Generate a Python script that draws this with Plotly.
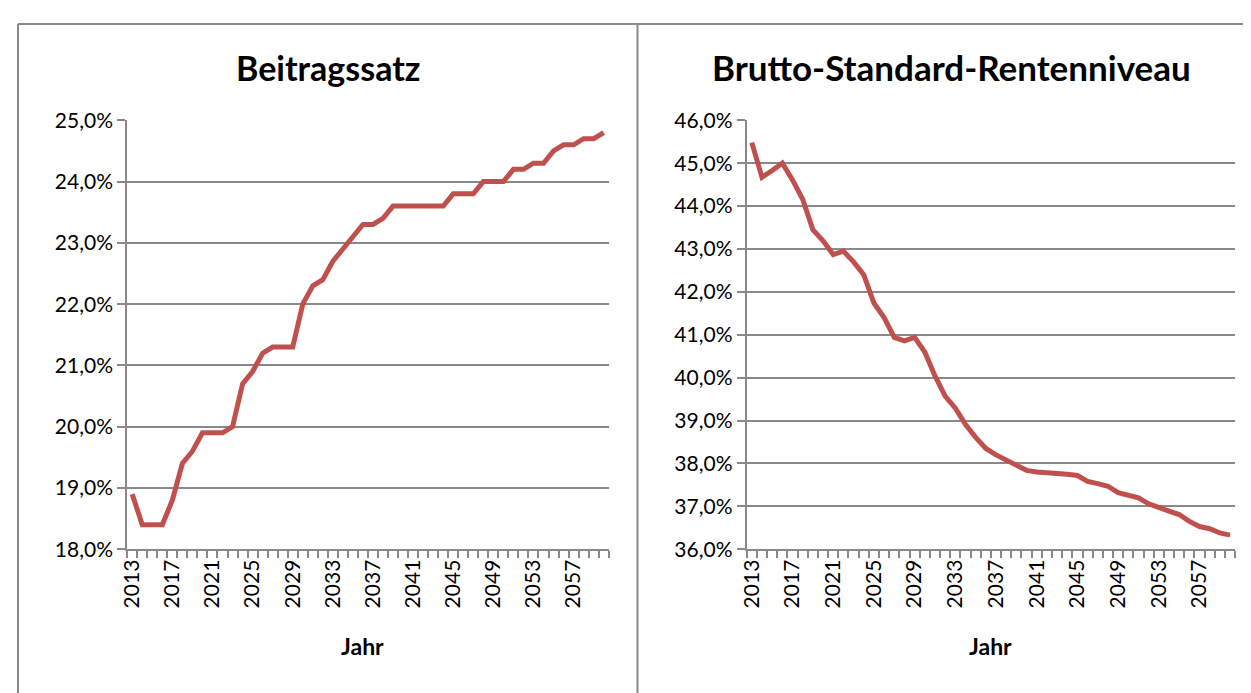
import plotly.graph_objects as go
from plotly.subplots import make_subplots

years = list(range(2013, 2061))

beitragssatz = [18.9, 18.4, 18.4, 18.4, 18.8, 19.4, 19.6, 19.9, 19.9, 19.9,
                20.0, 20.7, 20.9, 21.2, 21.3, 21.3, 21.3, 22.0, 22.3, 22.4,
                22.7, 22.9, 23.1, 23.3, 23.3, 23.4, 23.6, 23.6, 23.6, 23.6,
                23.6, 23.6, 23.8, 23.8, 23.8, 24.0, 24.0, 24.0, 24.2, 24.2,
                24.3, 24.3, 24.5, 24.6, 24.6, 24.7, 24.7, 24.8]

rentenniveau = [45.48, 44.67, 44.83, 45.0, 44.61, 44.16, 43.45, 43.19, 42.87, 42.95,
                42.70, 42.40, 41.74, 41.40, 40.94, 40.86, 40.94, 40.60, 40.04, 39.57,
                39.29, 38.91, 38.61, 38.35, 38.20, 38.09, 37.97, 37.84, 37.80, 37.79,
                37.77, 37.75, 37.72, 37.58, 37.53, 37.47, 37.32, 37.25, 37.20, 37.06,
                36.99, 36.89, 36.81, 36.65, 36.53, 36.48, 36.38, 36.33]

titles = ["Beitragssatz", "Brutto-Standard-Rentenniveau"]
x_title = "Jahr"
label_years = list(range(2013, 2061, 4))

W, H = 1251, 693
OFF = 8  # page body margin
LINE = "#C0504D"
GRAY = "#898989"
FONT = "Lato"

fig = make_subplots(rows=1, cols=2)

fig.add_trace(go.Scatter(x=years, y=beitragssatz, mode="lines",
                         line=dict(color=LINE, width=5), showlegend=False), row=1, col=1)
fig.add_trace(go.Scatter(x=years, y=rentenniveau, mode="lines",
                         line=dict(color=LINE, width=5), showlegend=False), row=1, col=2)


def px_x(p):
    return (p - OFF) / W


def px_y(p):
    return 1 - (p - OFF) / H


xdoms = [[px_x(119), px_x(604)], [px_x(743), px_x(1235)]]
ydom = [px_y(555), px_y(110)]
yranges = [[18, 25], [36, 46]]

for i in range(2):
    fig.update_xaxes(row=1, col=i + 1, domain=xdoms[i], range=[2012.5, 2060.5],
                     tickmode="array", tickvals=label_years,
                     ticktext=[str(y) for y in label_years],
                     tickangle=-90, ticks="", showgrid=False, zeroline=False,
                     showline=True, linecolor=GRAY, linewidth=2,
                     tickfont=dict(family=FONT, size=21, color="black"),
                     minor=dict(ticks="outside", dtick=1, tick0=2012.5, ticklen=7,
                                tickcolor=GRAY, tickwidth=1.5, showgrid=False))
    fig.update_yaxes(row=1, col=i + 1, domain=ydom, range=yranges[i], dtick=1,
                     tickformat=".1f", ticksuffix="%", showgrid=True,
                     gridcolor=GRAY, gridwidth=2, zeroline=False,
                     showline=True, linecolor=GRAY, linewidth=2,
                     ticks="outside", ticklen=8, tickcolor=GRAY, tickwidth=2,
                     tickfont=dict(family=FONT, size=21, color="black"))

annotations = [
    dict(text=f"<b>{titles[0]}</b>", x=px_x(321), y=px_y(55), xref="paper", yref="paper",
         showarrow=False, font=dict(family=FONT, size=34, color="black"),
         xanchor="center", yanchor="middle"),
    dict(text=f"<b>{titles[1]}</b>", x=px_x(949), y=px_y(55), xref="paper", yref="paper",
         showarrow=False, font=dict(family=FONT, size=35, color="black"),
         xanchor="center", yanchor="middle"),
    dict(text=f"<b>{x_title}</b>", x=px_x(356), y=px_y(655), xref="paper", yref="paper",
         showarrow=False, font=dict(family=FONT, size=23, color="black"),
         xanchor="center", yanchor="middle"),
    dict(text=f"<b>{x_title}</b>", x=px_x(989), y=px_y(655), xref="paper", yref="paper",
         showarrow=False, font=dict(family=FONT, size=23, color="black"),
         xanchor="center", yanchor="middle"),
]

shapes = [
    dict(type="line", xref="paper", yref="paper", x0=px_x(9), x1=1.02, y0=px_y(10), y1=px_y(10),
         line=dict(color=GRAY, width=2)),
    dict(type="line", xref="paper", yref="paper", x0=px_x(9), x1=px_x(9), y0=-0.02, y1=px_y(10),
         line=dict(color=GRAY, width=2)),
    dict(type="line", xref="paper", yref="paper", x0=px_x(633), x1=px_x(633), y0=-0.02, y1=px_y(10),
         line=dict(color=GRAY, width=2)),
]

fig.update_layout(width=W, height=H, margin=dict(l=0, r=0, t=0, b=0),
                  paper_bgcolor="white", plot_bgcolor="white",
                  separators=",.", annotations=annotations, shapes=shapes,
                  font=dict(family=FONT, color="black"))

fig.write_html("out.html")
